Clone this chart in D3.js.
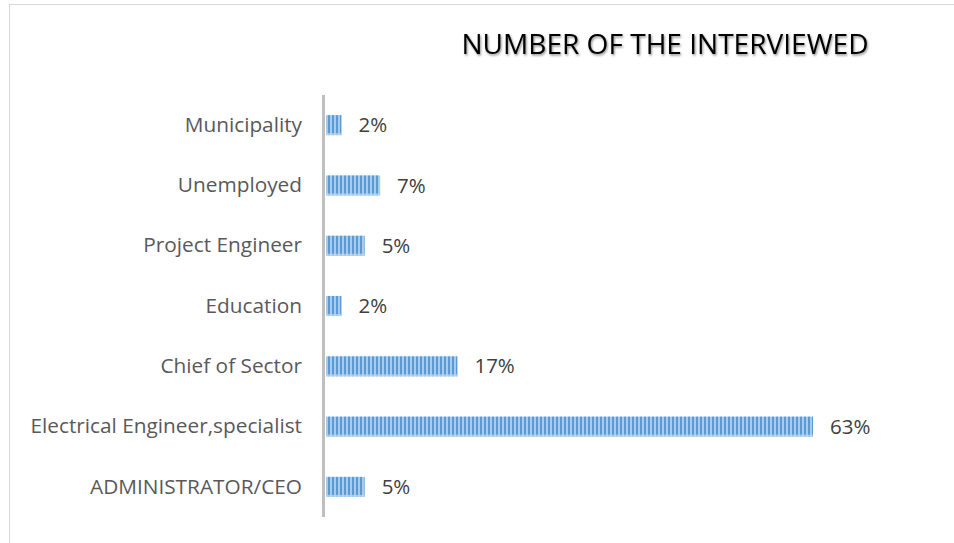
<!DOCTYPE html>
<html>
<head>
<meta charset="utf-8">
<script src="https://cdn.jsdelivr.net/npm/d3@7"></script>
<style>
  html, body { margin: 0; padding: 0; background: #fff; }
  svg { display: block; }
</style>
</head>
<body>
<svg id="chart" width="954" height="543"></svg>
<script>
// Share of interviewed people by occupation (top to bottom)
const categories = [
  "Municipality",
  "Unemployed",
  "Project Engineer",
  "Education",
  "Chief of Sector",
  "Electrical Engineer,specialist",
  "ADMINISTRATOR/CEO"
];
const values = [2, 7, 5, 2, 17, 63, 5];
const titleText = "NUMBER OF THE INTERVIEWED";

const svg = d3.select("#chart");
const W = 954, H = 543;

// outer frame
svg.append("rect")
  .attr("x", 9.5).attr("y", 4.5)
  .attr("width", W + 10).attr("height", H + 10)
  .attr("fill", "#fff").attr("stroke", "#d9d9d9").attr("stroke-width", 1);

const defs = svg.append("defs");

// vertical stripe fill for the bars
const pat = defs.append("pattern")
  .attr("id", "stripes")
  .attr("patternUnits", "userSpaceOnUse")
  .attr("width", 4).attr("height", 10);
pat.append("rect").attr("width", 4).attr("height", 10).attr("fill", "#a9cbeb");
pat.append("rect").attr("width", 2).attr("height", 10).attr("fill", "#5b9bd5");

// soft shadow under the title
const f = defs.append("filter").attr("id", "shadow")
  .attr("x", "-5%").attr("y", "-30%").attr("width", "110%").attr("height", "160%");
f.append("feDropShadow")
  .attr("dx", 1).attr("dy", 1.5).attr("stdDeviation", 1.2)
  .attr("flood-color", "#000").attr("flood-opacity", 0.45);

const plot = { left: 326, top: 95, bottom: 517 };

const x = d3.scaleLinear().domain([0, 63]).range([plot.left, 813]);
const y = d3.scaleBand()
  .domain(categories)
  .range([95, 517])
  .paddingInner(0.667)
  .paddingOuter(0.333);

// bars
svg.append("g")
  .selectAll("rect")
  .data(values)
  .join("rect")
  .attr("x", x(0))
  .attr("y", (d, i) => y(categories[i]))
  .attr("width", d => x(d) - x(0))
  .attr("height", y.bandwidth())
  .attr("fill", "url(#stripes)");

// light bottom edge of each bar
svg.append("g")
  .selectAll("rect")
  .data(values)
  .join("rect")
  .attr("x", x(0))
  .attr("y", (d, i) => y(categories[i]) + y.bandwidth() - 2)
  .attr("width", d => x(d) - x(0))
  .attr("height", 2)
  .attr("fill", "#bcd6ee")
  .attr("opacity", 0.8);

// category axis
const yAxis = d3.axisLeft(y).tickSize(0).tickPadding(22);
const gy = svg.append("g")
  .attr("transform", `translate(${plot.left - 2},0)`)
  .call(yAxis);
gy.select(".domain").remove();
gy.selectAll("text")
  .attr("font-family", "'Open Sans', sans-serif")
  .attr("font-size", 20.8)
  .attr("fill", "#595959");

// vertical axis line
svg.append("line")
  .attr("x1", plot.left - 2.5).attr("x2", plot.left - 2.5)
  .attr("y1", plot.top).attr("y2", plot.bottom)
  .attr("stroke", "#bfbfbf").attr("stroke-width", 3);

// value labels
svg.append("g")
  .selectAll("text")
  .data(values)
  .join("text")
  .attr("x", d => x(d) + 17)
  .attr("y", (d, i) => y(categories[i]) + y.bandwidth() / 2)
  .attr("dy", "0.35em")
  .attr("font-family", "'Open Sans', sans-serif")
  .attr("font-size", 20.5)
  .attr("fill", "#404040")
  .text(d => d + "%");

// title
svg.append("text")
  .attr("x", 665).attr("y", 54)
  .attr("text-anchor", "middle")
  .attr("font-family", "'Liberation Sans Narrow', 'Open Sans', sans-serif")
  .attr("font-size", 27)
  .attr("textLength", 407)
  .attr("lengthAdjust", "spacingAndGlyphs")
  .attr("fill", "#000")
  .attr("filter", "url(#shadow)")
  .text(titleText);
</script>
</body>
</html>
